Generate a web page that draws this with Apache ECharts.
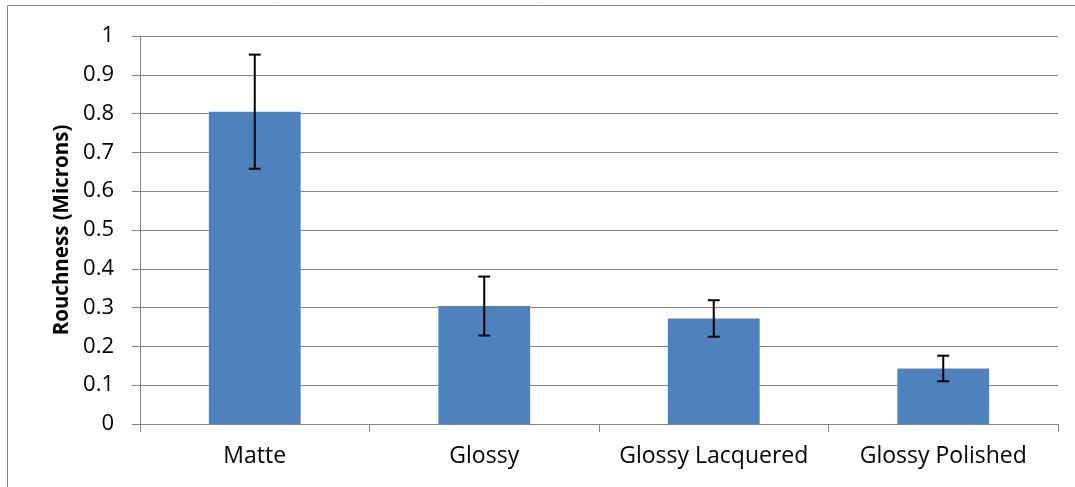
<!DOCTYPE html>
<html>
<head>
<meta charset="utf-8">
<script src="https://cdn.jsdelivr.net/npm/echarts@6/dist/echarts.min.js"></script>
<style>html,body{margin:0;padding:0;background:#fff;}#c{width:1075px;height:487px;}</style>
</head>
<body>
<div id="c"></div>
<script>
const categories = ["Matte", "Glossy", "Glossy Lacquered", "Glossy Polished"];
const values = [0.805, 0.304, 0.272, 0.143];
const errors = [0.147, 0.076, 0.047, 0.033];
const yTicks = [0, 0.1, 0.2, 0.3, 0.4, 0.5, 0.6, 0.7, 0.8, 0.9, 1];

const FONT = "'Open Sans', sans-serif";
const chart = echarts.init(document.getElementById('c'));
const errData = values.map((v, i) => [i, v - errors[i], v + errors[i]]);

chart.setOption({
  animation: false,
  graphic: [{
    type: 'rect', shape: {x: 7.5, y: 5.5, width: 1100, height: 520},
    style: {fill: 'none', stroke: '#868686', lineWidth: 1}, silent: true, z: -10
  }],
  grid: {left: 140, right: 17, top: 36, bottom: 63},
  xAxis: {
    type: 'category', data: categories,
    axisLine: {lineStyle: {color: '#868686', width: 1}},
    axisTick: {show: true, length: 8, lineStyle: {color: '#868686'}},
    axisLabel: {color: '#000', fontFamily: FONT, fontSize: 23, margin: 21, interval: 0, hideOverlap: false}
  },
  yAxis: {
    type: 'value', min: 0, max: 1, interval: 0.1,
    name: 'Rouchness (Microns)', nameLocation: 'middle', nameGap: 66,
    nameTextStyle: {color: '#000', fontFamily: FONT, fontSize: 20.5, fontWeight: 'bold'},
    axisLine: {show: true, lineStyle: {color: '#868686', width: 1}},
    axisTick: {show: true, length: 8, lineStyle: {color: '#868686'}},
    axisLabel: {color: '#000', fontFamily: FONT, fontSize: 22, margin: 26,
      formatter: v => { const t = yTicks.find(x => Math.abs(x - v) < 1e-9); return String(t !== undefined ? t : +v.toFixed(1)); }},
    splitLine: {show: true, lineStyle: {color: '#868686', width: 1}}
  },
  series: [{
    type: 'bar', data: values, barCategoryGap: '60%',
    itemStyle: {color: '#4F81BD'}
  }, {
    type: 'custom', data: errData, z: 10,
    renderItem: function (params, api) {
      const x = api.value(0);
      const lo = api.coord([x, api.value(1)]);
      const hi = api.coord([x, api.value(2)]);
      const hw = 6;
      const st = {stroke: '#000', lineWidth: 2};
      return {type: 'group', children: [
        {type: 'line', shape: {x1: hi[0], y1: hi[1], x2: lo[0], y2: lo[1]}, style: st},
        {type: 'line', shape: {x1: hi[0] - hw, y1: hi[1], x2: hi[0] + hw, y2: hi[1]}, style: st},
        {type: 'line', shape: {x1: lo[0] - hw, y1: lo[1], x2: lo[0] + hw, y2: lo[1]}, style: st}
      ]};
    }
  }]
});
</script>
</body>
</html>
